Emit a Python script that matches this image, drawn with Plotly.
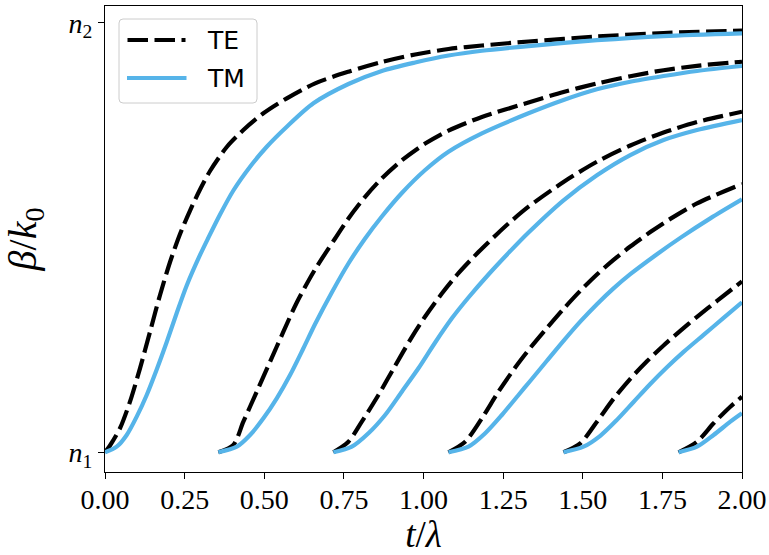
import plotly.graph_objects as go

# ---- data (x = t/lambda, y = normalized beta/k0: n1 -> 0, n2 -> 1)
te0_t = [0.0, 0.0157, 0.0471, 0.0785, 0.1099, 0.1414, 0.1728, 0.2042, 0.2356, 0.2670, 0.2984, 0.3298, 0.3823, 0.4344, 0.4973, 0.5708, 0.6597, 0.7643, 0.8692, 0.9738, 1.0784, 1.1833, 1.3297, 1.5445, 1.7537, 2.0]
te0_b = [0.0, 0.0158, 0.0559, 0.1178, 0.1955, 0.2807, 0.3662, 0.4430, 0.5081, 0.5628, 0.6117, 0.6548, 0.7107, 0.7502, 0.7891, 0.8240, 0.8589, 0.8859, 0.9085, 0.9260, 0.9388, 0.9469, 0.9562, 0.9679, 0.9760, 0.9814]
tm0_t = [0.0, 0.0368, 0.0682, 0.0996, 0.1310, 0.1624, 0.1938, 0.2252, 0.2566, 0.2984, 0.3245, 0.3612, 0.4030, 0.4555, 0.5079, 0.5708, 0.6543, 0.7643, 0.8692, 0.9738, 1.0784, 1.1833, 1.3297, 1.5445, 1.7537, 2.0]
tm0_b = [0.0, 0.0130, 0.0403, 0.0829, 0.1334, 0.1927, 0.2567, 0.3242, 0.3883, 0.4593, 0.4993, 0.5535, 0.6094, 0.6648, 0.7113, 0.7579, 0.8124, 0.8573, 0.8876, 0.9073, 0.9236, 0.9348, 0.9457, 0.9593, 0.9690, 0.9753]

te1_t = [0.3559, 0.4030, 0.4344, 0.4765, 0.5183, 0.5601, 0.6022, 0.6565, 0.7225, 0.7643, 0.8167, 0.8692, 0.9320, 1.0052, 1.0784, 1.1833, 1.3297, 1.4396, 1.5445, 1.6492, 1.7537, 1.8587, 2.0]
te1_b = [0.0, 0.0170, 0.0712, 0.1411, 0.2109, 0.2807, 0.3487, 0.4220, 0.4977, 0.5442, 0.5947, 0.6376, 0.6795, 0.7186, 0.7488, 0.7805, 0.8142, 0.8387, 0.8585, 0.8755, 0.8894, 0.8997, 0.9092]
tm1_t = [0.3559, 0.4137, 0.4555, 0.4973, 0.5393, 0.5811, 0.6229, 0.6597, 0.7121, 0.7643, 0.8167, 0.8692, 0.9320, 1.0052, 1.0784, 1.1833, 1.3297, 1.4396, 1.5445, 1.6492, 1.7537, 1.8587, 2.0]
tm1_b = [0.0, 0.0130, 0.0403, 0.0791, 0.1257, 0.1799, 0.2421, 0.2986, 0.3720, 0.4395, 0.4977, 0.5489, 0.6036, 0.6571, 0.6997, 0.7425, 0.7891, 0.8201, 0.8450, 0.8627, 0.8759, 0.8876, 0.8992]

te2_t = [0.7171, 0.7643, 0.8063, 0.8585, 0.9109, 0.9634, 1.0052, 1.0576, 1.1098, 1.1726, 1.2304, 1.2669, 1.3297, 1.4396, 1.5445, 1.6492, 1.7537, 1.8587, 2.0]
te2_b = [0.0, 0.0247, 0.0712, 0.1334, 0.2013, 0.2682, 0.3161, 0.3696, 0.4169, 0.4662, 0.5077, 0.5326, 0.5717, 0.6292, 0.6764, 0.7141, 0.7444, 0.7688, 0.7928]
tm2_t = [0.7171, 0.7749, 0.8271, 0.8795, 0.9320, 0.9841, 1.0366, 1.0891, 1.1412, 1.2040, 1.2669, 1.3297, 1.4396, 1.5445, 1.6492, 1.7537, 1.8587, 2.0]
tm2_b = [0.0, 0.0130, 0.0442, 0.0868, 0.1411, 0.1955, 0.2556, 0.3119, 0.3603, 0.4139, 0.4641, 0.5116, 0.5866, 0.6450, 0.6920, 0.7269, 0.7502, 0.7735]

te3_t = [1.0784, 1.1308, 1.1833, 1.2354, 1.2879, 1.3350, 1.3875, 1.4396, 1.4921, 1.5445, 1.5967, 1.6492, 1.7120, 1.7748, 1.8587, 2.0]
te3_b = [0.0, 0.0247, 0.0791, 0.1411, 0.1974, 0.2428, 0.2893, 0.3338, 0.3757, 0.4139, 0.4478, 0.4790, 0.5126, 0.5433, 0.5794, 0.6245]
tm3_t = [1.0784, 1.1412, 1.1937, 1.2461, 1.2983, 1.3350, 1.3875, 1.4396, 1.4921, 1.5445, 1.5967, 1.6492, 1.7330, 1.8062, 1.9004, 2.0]
tm3_b = [0.0, 0.0130, 0.0442, 0.0868, 0.1334, 0.1660, 0.2130, 0.2593, 0.3040, 0.3447, 0.3815, 0.4146, 0.4611, 0.4991, 0.5445, 0.5887]

te4_t = [1.4396, 1.4921, 1.5445, 1.5967, 1.6492, 1.7016, 1.7537, 1.8062, 1.8587, 1.9215, 2.0]
te4_b = [0.0, 0.0209, 0.0712, 0.1245, 0.1711, 0.2118, 0.2486, 0.2828, 0.3152, 0.3524, 0.3978]
tm4_t = [1.4396, 1.5024, 1.5549, 1.6073, 1.6595, 1.7120, 1.7644, 1.8166, 1.8794, 1.9422, 2.0]
tm4_b = [0.0, 0.0130, 0.0384, 0.0754, 0.1171, 0.1590, 0.1979, 0.2337, 0.2733, 0.3128, 0.3492]

te5_t = [1.8009, 1.8587, 1.9108, 1.9633, 2.0]
te5_b = [0.0, 0.0247, 0.0675, 0.1061, 0.1294]
tm5_t = [1.8009, 1.8587, 1.9108, 1.9633, 2.0]
tm5_b = [0.0, 0.0130, 0.0403, 0.0712, 0.0908]

x_tickvals = [0.0, 0.25, 0.5, 0.75, 1.0, 1.25, 1.5, 1.75, 2.0]
x_ticktext = ["0.00", "0.25", "0.50", "0.75", "1.00", "1.25", "1.50", "1.75", "2.00"]
y_tickvals = [0.0, 1.0]
y_ticktext = ["<i>n</i><sub>1</sub>", "<i>n</i><sub>2</sub>"]

TE_COLOR = "black"
TM_COLOR = "#56B4E9"
DASH = "20.5px,6.5px"
LW = 4.2

te_curves = [(te0_t, te0_b), (te1_t, te1_b), (te2_t, te2_b), (te3_t, te3_b), (te4_t, te4_b), (te5_t, te5_b)]
tm_curves = [(tm0_t, tm0_b), (tm1_t, tm1_b), (tm2_t, tm2_b), (tm3_t, tm3_b), (tm4_t, tm4_b), (tm5_t, tm5_b)]

fig = go.Figure()
for (xt, yt), (xm, ym) in zip(te_curves, tm_curves):
    fig.add_trace(go.Scatter(x=xt, y=yt, mode="lines", name="TE",
                             line=dict(color=TE_COLOR, width=LW, dash=DASH, shape="spline", smoothing=0.8),
                             showlegend=False))
    fig.add_trace(go.Scatter(x=xm, y=ym, mode="lines", name="TM",
                             line=dict(color=TM_COLOR, width=LW, shape="spline", smoothing=0.8),
                             showlegend=False))

L, R, T, B = 105, 27, 6, 83
W, H = 769, 555
PW, PH = W - L - R, H - T - B


def px(xp):
    return (xp - L) / PW


def py(yp):
    return (H - B - yp) / PH


# legend drawn as a rounded box with sample lines and labels
x0, x1, y0, y1 = px(119), px(257), py(103), py(19)
rx, ry = 4 / PW, 4 / PH
path = (f"M{x0+rx},{y0} L{x1-rx},{y0} Q{x1},{y0} {x1},{y0+ry} L{x1},{y1-ry} Q{x1},{y1} {x1-rx},{y1} "
        f"L{x0+rx},{y1} Q{x0},{y1} {x0},{y1-ry} L{x0},{y0+ry} Q{x0},{y0} {x0+rx},{y0} Z")
shapes = [
    dict(type="path", xref="paper", yref="paper", path=path,
         fillcolor="rgba(255,255,255,0.8)", line=dict(color="#cccccc", width=1), layer="above"),
    dict(type="line", xref="paper", yref="paper", x0=px(127.5), x1=px(185.5), y0=py(40), y1=py(40),
         line=dict(color=TE_COLOR, width=LW, dash=DASH), layer="above"),
    dict(type="line", xref="paper", yref="paper", x0=px(127), x1=px(186.5), y0=py(78), y1=py(78),
         line=dict(color=TM_COLOR, width=LW), layer="above"),
]
annotations = [
    dict(text="TE", xref="paper", yref="paper", x=px(205), y=py(40), xanchor="left", yanchor="middle",
         showarrow=False, font=dict(family="DejaVu Sans", size=25, color="black")),
    dict(text="TM", xref="paper", yref="paper", x=px(205), y=py(78), xanchor="left", yanchor="middle",
         showarrow=False, font=dict(family="DejaVu Sans", size=25, color="black")),
]

axis_common = dict(showline=True, linecolor="black", linewidth=1.1, mirror=True,
                   ticks="outside", ticklen=6, tickwidth=1.1, tickcolor="black",
                   showgrid=False, zeroline=False, automargin=False,
                   tickfont=dict(family="Liberation Serif", size=28, color="black"))

fig.update_layout(
    width=W, height=H,
    margin=dict(l=L, r=R, t=T, b=B, autoexpand=False),
    paper_bgcolor="white", plot_bgcolor="white",
    showlegend=False,
    shapes=shapes, annotations=annotations,
    xaxis=dict(range=[0, 2], tickmode="array", tickvals=x_tickvals, ticktext=x_ticktext,
               ticklabelstandoff=-4,
               title=dict(text="<i>t</i>/<i>λ</i>", font=dict(family="Liberation Serif", size=37, color="black"),
                          standoff=3),
               **axis_common),
    yaxis=dict(range=[-0.0459, 1.0389], tickmode="array", tickvals=y_tickvals, ticktext=y_ticktext,
               title=dict(text="<i>β</i>/<i>k</i><sub>0</sub>", font=dict(family="Liberation Serif", size=40, color="black"),
                          standoff=22),
               **axis_common),
)

fig.write_html("out.html", config={"displayModeBar": False},
               post_script="document.body.style.margin='0px';")
